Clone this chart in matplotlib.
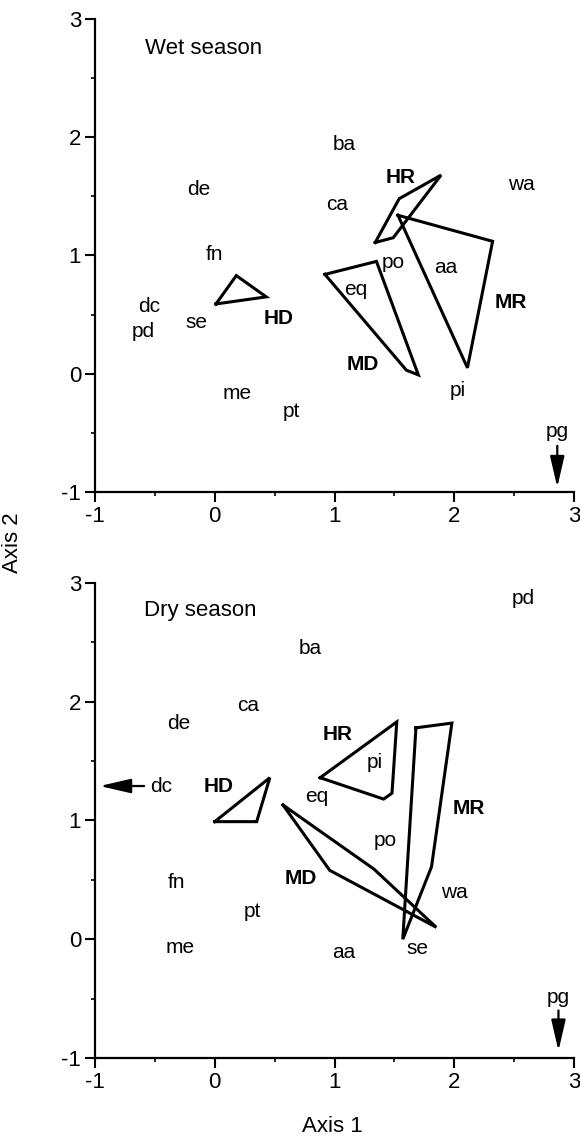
# ordination plot, wet and dry season
import matplotlib
matplotlib.use('Agg')
import matplotlib.pyplot as plt
from matplotlib.ticker import MultipleLocator

plt.rcParams['font.family'] = ['Liberation Sans', 'DejaVu Sans']
plt.rcParams['axes.unicode_minus'] = False

# wet season species labels
wet_names = ['ba', 'de', 'ca', 'wa', 'fn', 'po', 'aa', 'eq', 'dc', 'pd', 'se', 'me', 'pt', 'pi', 'pg']
wet_x = [1.08, -0.13, 1.02, 2.56, 0.0, 1.49, 1.93, 1.18, -0.55, -0.60, -0.15, 0.19, 0.64, 2.03, 2.86]
wet_y = [1.94, 1.56, 1.43, 1.60, 1.01, 0.94, 0.90, 0.71, 0.57, 0.36, 0.43, -0.17, -0.32, -0.14, -0.49]

# wet season group labels (bold)
wet_groups = ['HR', 'HD', 'MR', 'MD']
wet_gx = [1.55, 0.53, 2.47, 1.24]
wet_gy = [1.66, 0.47, 0.60, 0.08]

# wet season hulls
wet_hd_x = [0.01, 0.18, 0.43]
wet_hd_y = [0.59, 0.83, 0.65]
wet_hr_x = [1.34, 1.54, 1.89, 1.49]
wet_hr_y = [1.11, 1.48, 1.68, 1.15]
wet_mr_x = [1.53, 2.32, 2.11]
wet_mr_y = [1.34, 1.12, 0.05]
wet_md_x = [0.92, 1.35, 1.70, 1.60]
wet_md_y = [0.84, 0.95, -0.01, 0.03]

# dry season species labels
dry_names = ['pd', 'ba', 'ca', 'de', 'pi', 'eq', 'po', 'fn', 'wa', 'pt', 'me', 'aa', 'se', 'pg']
dry_x = [2.58, 0.80, 0.28, -0.30, 1.34, 0.85, 1.42, -0.32, 2.00, 0.31, -0.29, 1.08, 1.69, 2.87]
dry_y = [2.87, 2.45, 1.97, 1.82, 1.49, 1.20, 0.83, 0.48, 0.39, 0.23, -0.07, -0.11, -0.08, -0.49]

dry_groups = ['HR', 'HD', 'MR', 'MD']
dry_gx = [1.03, 0.03, 2.12, 0.72]
dry_gy = [1.72, 1.29, 1.10, 0.51]

dry_hd_x = [0.0, 0.46, 0.35]
dry_hd_y = [0.99, 1.36, 0.99]
dry_hr_x = [0.88, 1.52, 1.48, 1.41]
dry_hr_y = [1.36, 1.83, 1.23, 1.18]
dry_mr_x = [1.68, 1.98, 1.81, 1.57]
dry_mr_y = [1.78, 1.82, 0.61, 0.0]
dry_md_x = [0.57, 0.96, 1.85, 1.33]
dry_md_y = [1.13, 0.58, 0.10, 0.59]

fs = 15
arrow = dict(arrowstyle='-|>,head_length=0.95,head_width=0.22',
             color='black', lw=1.6, mutation_scale=20, shrinkA=0, shrinkB=0)


def setup(ax):
    ax.set_xlim(-1, 3)
    ax.set_ylim(-1, 3)
    for s in ['top', 'right']:
        ax.spines[s].set_visible(False)
    for s in ['left', 'bottom']:
        ax.spines[s].set_linewidth(1.6)
    ax.xaxis.set_major_locator(MultipleLocator(1))
    ax.yaxis.set_major_locator(MultipleLocator(1))
    ax.xaxis.set_minor_locator(MultipleLocator(0.5))
    ax.yaxis.set_minor_locator(MultipleLocator(0.5))
    ax.tick_params(which='major', direction='out', length=7, width=1.5, labelsize=16, pad=3)
    ax.tick_params(which='minor', direction='out', length=3, width=1.2)


def hull(ax, xs, ys):
    ax.plot(xs + xs[:1], ys + ys[:1], color='black', lw=2.2, solid_joinstyle='miter')


fig = plt.figure(figsize=(5.8, 11.37), dpi=100)

ax1 = fig.add_axes([0.1638, 0.5673, 0.8259, 0.416])
setup(ax1)
ax1.text(-0.58, 2.75, 'Wet season', ha='left', va='center', fontsize=16)
for n, x, y in zip(wet_names, wet_x, wet_y):
    ax1.text(x, y, n, ha='center', va='center', fontsize=fs)
for n, x, y in zip(wet_groups, wet_gx, wet_gy):
    ax1.text(x, y, n, ha='center', va='center', fontsize=fs, fontweight='bold')
hull(ax1, wet_hd_x, wet_hd_y)
hull(ax1, wet_hr_x, wet_hr_y)
hull(ax1, wet_mr_x, wet_mr_y)
hull(ax1, wet_md_x, wet_md_y)
ax1.annotate('', xy=(2.86, -0.96), xytext=(2.86, -0.61), arrowprops=arrow)

ax2 = fig.add_axes([0.1638, 0.0695, 0.8259, 0.4178])
setup(ax2)
ax2.text(-0.59, 2.77, 'Dry season', ha='left', va='center', fontsize=16)
for n, x, y in zip(dry_names, dry_x, dry_y):
    ax2.text(x, y, n, ha='center', va='center', fontsize=fs)
for n, x, y in zip(dry_groups, dry_gx, dry_gy):
    ax2.text(x, y, n, ha='center', va='center', fontsize=fs, fontweight='bold')
ax2.text(-0.54, 1.29, 'dc', ha='left', va='center', fontsize=fs)
hull(ax2, dry_hd_x, dry_hd_y)
hull(ax2, dry_hr_x, dry_hr_y)
hull(ax2, dry_mr_x, dry_mr_y)
hull(ax2, dry_md_x, dry_md_y)
ax2.annotate('', xy=(2.87, -0.94), xytext=(2.87, -0.60), arrowprops=arrow)
ax2.annotate('', xy=(-0.96, 1.29), xytext=(-0.59, 1.29), arrowprops=arrow)

fig.text(12 / 580, 1 - 543 / 1137, 'Axis 2', rotation=90, ha='center', va='center', fontsize=16)
fig.text(332 / 580, 1 - 1126 / 1137, 'Axis 1', ha='center', va='center', fontsize=16)

fig.savefig('out.png', dpi=100)
